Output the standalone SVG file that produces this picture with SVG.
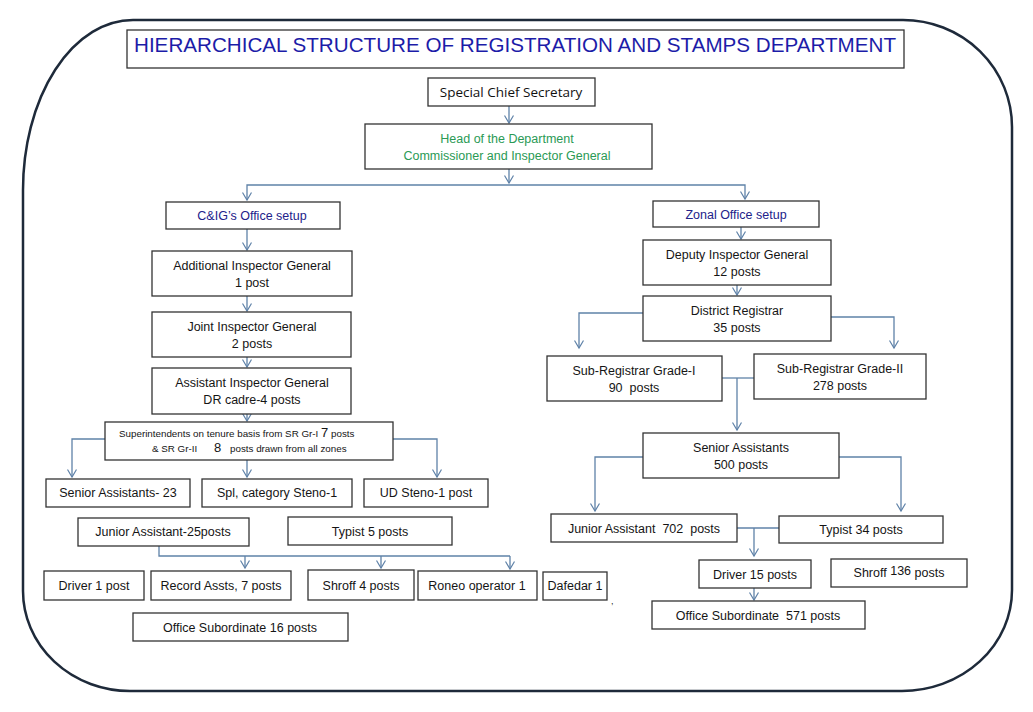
<svg xmlns="http://www.w3.org/2000/svg" width="1033" height="712" viewBox="0 0 1033 712">
<defs>
<marker id="ah" markerWidth="10" markerHeight="10" refX="8" refY="5" orient="auto" markerUnits="userSpaceOnUse">
<path d="M0.5,0.5 L8,5 L0.5,9.5" fill="none" stroke="#5f82a8" stroke-width="1.2"/>
</marker>
<style>
.bx{fill:#fff;stroke:#333;stroke-width:1.3}
.t{font-family:"Liberation Sans",Arial,sans-serif;font-size:12.5px;fill:#151515;text-anchor:middle;white-space:pre}
.nv{fill:#22228a}
.gr{fill:#2a9a55}
.c{fill:none;stroke:#5f82a8;stroke-width:1.3}
.a{marker-end:url(#ah)}
</style>
</defs>
<rect width="1033" height="712" fill="#fff"/>
<path id="frame" d="M133,20 H903 A109,107 0 0 1 1012,127 V590 A110,101 0 0 1 902,691 H130 A107,100 0 0 1 23,591 V190 A110,170 0 0 1 133,20 Z" fill="none" stroke="#1e2a3a" stroke-width="2.5"/>

<g id="title">
<rect class="bx" x="127" y="30" width="777" height="38"/>
<text x="515" y="52" font-family="Liberation Sans,Arial,sans-serif" font-size="20" fill="#1c1ca8" text-anchor="middle" textLength="762" lengthAdjust="spacingAndGlyphs">HIERARCHICAL STRUCTURE OF REGISTRATION AND STAMPS DEPARTMENT</text>
</g>

<g id="connectors">
<path class="c a" d="M509,106 V123"/>
<path class="c a" d="M509,169 V183"/>
<path class="c a" d="M509,185 H247 V200"/>
<path class="c a" d="M509,185 H745 V199"/>
<path class="c a" d="M247,229 V250"/>
<path class="c a" d="M247,296 V311"/>
<path class="c a" d="M247,357 V367"/>
<path class="c a" d="M247,414 V421"/>
<path class="c a" d="M105,439 H72 V477"/>
<path class="c a" d="M247,460 V477"/>
<path class="c a" d="M393,439 H437 V477"/>
<path class="c a" d="M263,479 V490"/>
<path class="c" d="M159,546 V556 H510"/>
<path class="c a" d="M510,556 V569"/>
<path class="c a" d="M245,556 V568"/>
<path class="c a" d="M381,556 V568"/>
<path class="c a" d="M741,227 V239"/>
<path class="c a" d="M737,285 V295"/>
<path class="c a" d="M643,313 H579 V348"/>
<path class="c a" d="M831,317 H894 V348"/>
<path class="c" d="M722,378 H754"/>
<path class="c a" d="M737,378 V430"/>
<path class="c a" d="M643,457 H595 V511"/>
<path class="c a" d="M839,457 H901 V511"/>
<path class="c" d="M737,528 H779"/>
<path class="c a" d="M754,528 V556"/>
<path class="c a" d="M754,588 V600"/>
</g>

<g id="n-scs">
<rect class="bx" x="428" y="78" width="167" height="28"/>
<text x="511" y="97" font-family="Open Sans,sans-serif" font-size="13.5" fill="#111" text-anchor="middle">Special Chief Secretary</text>
</g>
<g id="n-head">
<rect class="bx" x="365" y="124" width="287" height="45"/>
<text class="t gr" x="507" y="143">Head of the Department</text>
<text class="t gr" x="507" y="160">Commissioner and Inspector General</text>
</g>
<g id="n-cig">
<rect class="bx" x="166" y="202" width="174" height="27"/>
<text class="t nv" x="252" y="220">C&amp;IG’s Office setup</text>
</g>
<g id="n-zonal">
<rect class="bx" x="653" y="201" width="166" height="26"/>
<text class="t nv" x="736" y="219">Zonal Office setup</text>
</g>
<g id="n-aig">
<rect class="bx" x="152" y="251" width="200" height="45"/>
<text class="t" x="252" y="270">Additional Inspector General</text>
<text class="t" x="252" y="287">1 post</text>
</g>
<g id="n-jig">
<rect class="bx" x="152" y="312" width="199" height="45"/>
<text class="t" x="252" y="331">Joint Inspector General</text>
<text class="t" x="252" y="348">2 posts</text>
</g>
<g id="n-asig">
<rect class="bx" x="152" y="368" width="199" height="46"/>
<text class="t" x="252" y="387">Assistant Inspector General</text>
<text class="t" x="252" y="404">DR cadre-4 posts</text>
</g>
<g id="n-supt">
<rect class="bx" x="105" y="422" width="288" height="38"/>
<text x="119" y="437" font-family="Liberation Sans,Arial,sans-serif" font-size="9.8" fill="#151515">Superintendents on tenure basis from SR Gr-I <tspan font-size="13">7</tspan> posts</text>
<text y="452" font-family="Liberation Sans,Arial,sans-serif" font-size="9.8" fill="#151515"><tspan x="152">&amp; SR Gr-II</tspan><tspan x="214" font-size="13">8</tspan><tspan x="230">posts drawn from all zones</tspan></text>
</g>
<g id="n-sa23">
<rect class="bx" x="46" y="479" width="144" height="28"/>
<text class="t" x="118" y="497">Senior Assistants- 23</text>
</g>
<g id="n-spl">
<rect class="bx" x="202" y="479" width="150" height="28"/>
<text class="t" x="277" y="497">Spl, category Steno-1</text>
</g>
<g id="n-ud">
<rect class="bx" x="364" y="479" width="124" height="28"/>
<text class="t" x="426" y="497">UD Steno-1 post</text>
</g>
<g id="n-ja25">
<rect class="bx" x="78" y="518" width="171" height="28"/>
<text class="t" x="163" y="536">Junior Assistant-25posts</text>
</g>
<g id="n-typ5">
<rect class="bx" x="288" y="517" width="164" height="28"/>
<text class="t" x="370" y="536">Typist 5 posts</text>
</g>
<g id="n-drv1">
<rect class="bx" x="44" y="571" width="100" height="29"/>
<text class="t" x="94" y="590">Driver 1 post</text>
</g>
<g id="n-rec">
<rect class="bx" x="151" y="571" width="140" height="29"/>
<text class="t" x="221" y="590">Record Assts, 7 posts</text>
</g>
<g id="n-shr4">
<rect class="bx" x="308" y="570" width="106" height="30"/>
<text class="t" x="361" y="590">Shroff 4 posts</text>
</g>
<g id="n-roneo">
<rect class="bx" x="418" y="571" width="119" height="29"/>
<text class="t" x="477" y="590">Roneo operator 1</text>
</g>
<g id="n-daf">
<rect class="bx" x="543" y="572" width="64" height="28"/>
<text class="t" x="575" y="590" font-size="11">Dafedar 1</text>
<text x="611" y="604" font-family="Liberation Sans,Arial,sans-serif" font-size="9" fill="#222">,</text>
</g>
<g id="n-os16">
<rect class="bx" x="133" y="613" width="215" height="28"/>
<text class="t" x="240" y="632">Office Subordinate 16 posts</text>
</g>

<g id="n-dig">
<rect class="bx" x="643" y="240" width="188" height="45"/>
<text class="t" x="737" y="259">Deputy Inspector General</text>
<text class="t" x="737" y="276">12 posts</text>
</g>
<g id="n-dr">
<rect class="bx" x="643" y="296" width="188" height="45"/>
<text class="t" x="737" y="315">District Registrar</text>
<text class="t" x="737" y="332">35 posts</text>
</g>
<g id="n-sr1">
<rect class="bx" x="547" y="356" width="175" height="45"/>
<text class="t" x="634" y="375">Sub-Registrar Grade-I</text>
<text class="t" x="634" y="392">90  posts</text>
</g>
<g id="n-sr2">
<rect class="bx" x="754" y="354" width="172" height="45"/>
<text class="t" x="840" y="373">Sub-Registrar Grade-II</text>
<text class="t" x="840" y="390">278 posts</text>
</g>
<g id="n-sa500">
<rect class="bx" x="643" y="433" width="196" height="45"/>
<text class="t" x="741" y="452">Senior Assistants</text>
<text class="t" x="741" y="469">500 posts</text>
</g>
<g id="n-ja702">
<rect class="bx" x="551" y="514" width="186" height="28"/>
<text class="t" x="644" y="533">Junior Assistant  702  posts</text>
</g>
<g id="n-typ34">
<rect class="bx" x="779" y="516" width="164" height="27"/>
<text class="t" x="861" y="534">Typist 34 posts</text>
</g>
<g id="n-drv15">
<rect class="bx" x="699" y="560" width="112" height="28"/>
<text class="t" x="755" y="579">Driver 15 posts</text>
</g>
<g id="n-shr136">
<rect class="bx" x="831" y="559" width="136" height="28"/>
<text class="t" x="899" y="577">Shroff <tspan dy="-2">136</tspan><tspan dy="2"> posts</tspan></text>
</g>
<g id="n-os571">
<rect class="bx" x="652" y="601" width="213" height="28"/>
<text class="t" x="758" y="620">Office Subordinate  571 posts</text>
</g>
</svg>
